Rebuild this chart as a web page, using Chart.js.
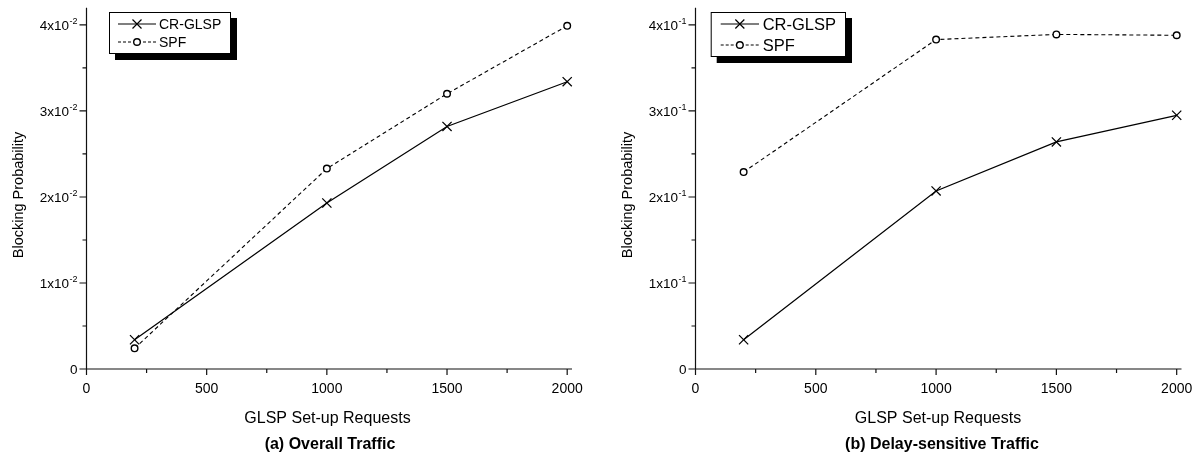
<!DOCTYPE html>
<html>
<head>
<meta charset="utf-8">
<script src="https://cdn.jsdelivr.net/npm/chart.js@4.4.0/dist/chart.umd.min.js"></script>
<style>
  html, body { margin: 0; padding: 0; background: #fff; }
  #wrap { position: relative; width: 1198px; height: 457px; overflow: hidden; }
  canvas { position: absolute; top: 0; }
  #cA { left: 0; }
  #cB { left: 600px; }
</style>
</head>
<body>
<div id="wrap">
  <canvas id="cA" width="600" height="457"></canvas>
  <canvas id="cB" width="598" height="457"></canvas>
</div>
<script>
// ---------------- data ----------------
const requests = [200, 1000, 1500, 2000];

const overallCR  = [0.0034, 0.0193, 0.0282, 0.0334];
const overallSPF = [0.0024, 0.0233, 0.0320, 0.0399];

const delayCR  = [0.034, 0.207, 0.264, 0.295];
const delaySPF = [0.229, 0.383, 0.389, 0.388];

const seriesNames = ['CR-GLSP', 'SPF'];

const xMajorTicks = [0, 500, 1000, 1500, 2000];
const xMinorTicks = [250, 750, 1250, 1750];
const xTickLabels = ['0', '500', '1000', '1500', '2000'];

const yMajorTicksA = [0, 0.01, 0.02, 0.03, 0.04];
const yMinorTicksA = [0.005, 0.015, 0.025, 0.035];
const yTickLabelsA = ['0', '1x10^-2', '2x10^-2', '3x10^-2', '4x10^-2'];

const yMajorTicksB = [0, 0.1, 0.2, 0.3, 0.4];
const yMinorTicksB = [0.05, 0.15, 0.25, 0.35];
const yTickLabelsB = ['0', '1x10^-1', '2x10^-1', '3x10^-1', '4x10^-1'];

const xTitle = 'GLSP Set-up Requests';
const yTitle = 'Blocking Probability';
const subTitleA = '(a) Overall Traffic';
const subTitleB = '(b) Delay-sensitive Traffic';

// ---------------- drawing ----------------
const FONT = '"Liberation Sans", Arial, Helvetica, sans-serif';

function toPoints(xs, ys) { return xs.map((x, i) => ({ x: x, y: ys[i] })); }

function drawMarker(ctx, style, x, y) {
  ctx.save();
  ctx.strokeStyle = '#000';
  ctx.setLineDash([]);
  if (style === 'cross') {
    ctx.lineWidth = 1.2;
    const r = 4.5;
    ctx.beginPath();
    ctx.moveTo(x - r, y - r); ctx.lineTo(x + r, y + r);
    ctx.moveTo(x - r, y + r); ctx.lineTo(x + r, y - r);
    ctx.stroke();
  } else {
    ctx.lineWidth = 1.4;
    ctx.fillStyle = '#fff';
    ctx.beginPath();
    ctx.arc(x, y, 3.3, 0, Math.PI * 2);
    ctx.fill(); ctx.stroke();
  }
  ctx.restore();
}

function makeAxesPlugin(cfg) {
  return {
    id: 'axesPlugin',
    afterDraw(chart) {
      const ctx = chart.ctx;
      const xs = chart.scales.x, ys = chart.scales.y;
      const a = chart.chartArea;
      ctx.save();
      ctx.strokeStyle = '#111';
      ctx.lineWidth = 1.2;
      ctx.setLineDash([]);
      // axis lines
      ctx.beginPath();
      ctx.moveTo(a.left, a.top); ctx.lineTo(a.left, a.bottom);
      ctx.moveTo(a.left, a.bottom); ctx.lineTo(a.right, a.bottom);
      ctx.stroke();
      // x ticks
      ctx.beginPath();
      xMajorTicks.forEach(v => { const p = xs.getPixelForValue(v); ctx.moveTo(p, a.bottom); ctx.lineTo(p, a.bottom + 6); });
      xMinorTicks.forEach(v => { const p = xs.getPixelForValue(v); ctx.moveTo(p, a.bottom); ctx.lineTo(p, a.bottom + 4); });
      // y ticks
      cfg.yMajor.forEach(v => { const p = ys.getPixelForValue(v); ctx.moveTo(a.left, p); ctx.lineTo(a.left - 7, p); });
      cfg.yMinor.forEach(v => { const p = ys.getPixelForValue(v); ctx.moveTo(a.left, p); ctx.lineTo(a.left - 4, p); });
      ctx.stroke();

      ctx.fillStyle = '#000';
      // x tick labels
      ctx.font = '14px ' + FONT;
      ctx.textAlign = 'center';
      ctx.textBaseline = 'alphabetic';
      xMajorTicks.forEach((v, i) => {
        ctx.fillText(xTickLabels[i], xs.getPixelForValue(v), a.bottom + 23.5);
      });
      // y tick labels with superscript exponent
      const rightEdge = a.left - 9;
      cfg.yMajor.forEach((v, i) => {
        const p = ys.getPixelForValue(v) + 5;
        const parts = cfg.yLabels[i].split('^');
        ctx.textAlign = 'left';
        ctx.font = '13.5px ' + FONT;
        const wBase = ctx.measureText(parts[0]).width;
        let wSup = 0;
        if (parts[1]) { ctx.font = '9px ' + FONT; wSup = ctx.measureText(parts[1]).width + 0.5; }
        const x0 = rightEdge - wBase - wSup;
        ctx.font = '13.5px ' + FONT;
        ctx.fillText(parts[0], x0, p);
        if (parts[1]) { ctx.font = '9px ' + FONT; ctx.fillText(parts[1], x0 + wBase + 0.5, p - 6); }
      });
      // titles
      ctx.textAlign = 'center';
      ctx.font = '16px ' + FONT;
      ctx.fillText(xTitle, cfg.xTitleX, 422.5);
      ctx.font = 'bold 16px ' + FONT;
      ctx.fillText(cfg.subTitle, cfg.xTitleX + cfg.subDx, 448.5);
      ctx.save();
      ctx.translate(cfg.yTitleX, 195);
      ctx.rotate(-Math.PI / 2);
      ctx.font = '14.5px ' + FONT;
      ctx.textBaseline = 'middle';
      ctx.fillText(yTitle, 0, 0);
      ctx.restore();

      // legend
      const L = cfg.legend;
      ctx.fillStyle = '#000';
      ctx.fillRect(L.x + L.sh, L.y + L.sh, L.w, L.h);
      ctx.fillStyle = '#fff';
      ctx.fillRect(L.x, L.y, L.w, L.h);
      ctx.lineWidth = 1;
      ctx.strokeStyle = '#000';
      ctx.strokeRect(L.x + 0.5, L.y + 0.5, L.w - 1, L.h - 1);
      ctx.font = L.font + 'px ' + FONT;
      ctx.textAlign = 'left';
      ctx.textBaseline = 'middle';
      seriesNames.forEach((name, i) => {
        const ry = L.rows[i];
        ctx.save();
        ctx.strokeStyle = '#000';
        ctx.lineWidth = 1.1;
        ctx.setLineDash(i === 0 ? [] : [3, 2]);
        ctx.beginPath();
        ctx.moveTo(L.lx0, ry); ctx.lineTo(L.lx1, ry);
        ctx.stroke();
        ctx.restore();
        drawMarker(ctx, i === 0 ? 'cross' : 'circle', (L.lx0 + L.lx1) / 2, ry);
        ctx.fillStyle = '#000';
        ctx.fillText(name, L.tx, ry + 1);
      });
      ctx.restore();
    }
  };
}

function makeChart(id, cr, spf, cfg) {
  return new Chart(document.getElementById(id), {
    type: 'line',
    data: {
      datasets: [
        {
          label: seriesNames[0],
          data: toPoints(requests, cr),
          borderColor: '#000',
          borderWidth: 1.25,
          pointStyle: 'crossRot',
          pointRadius: 6.5,
          pointBorderWidth: 1.25,
          pointBorderColor: '#000',
          pointBackgroundColor: '#000',
          tension: 0,
          fill: false,
          clip: false
        },
        {
          label: seriesNames[1],
          data: toPoints(requests, spf),
          borderColor: '#000',
          borderWidth: 1.1,
          borderDash: [4, 3],
          pointStyle: 'circle',
          pointRadius: 3.3,
          pointBorderWidth: 1.4,
          pointBorderColor: '#000',
          pointBackgroundColor: '#fff',
          tension: 0,
          fill: false,
          clip: false
        }
      ]
    },
    options: {
      responsive: false,
      animation: false,
      devicePixelRatio: 1,
      layout: { padding: cfg.padding },
      plugins: { legend: { display: false }, tooltip: { enabled: false } },
      scales: {
        x: { type: 'linear', min: 0, max: 2020, display: false },
        y: { type: 'linear', min: 0, max: cfg.yMax, display: false }
      }
    },
    plugins: [makeAxesPlugin(cfg)]
  });
}

makeChart('cA', overallCR, overallSPF, {
  padding: { left: 86.5, right: 28, top: 6.75, bottom: 88 },
  yMax: 0.042,
  yMajor: yMajorTicksA, yMinor: yMinorTicksA, yLabels: yTickLabelsA,
  xTitleX: 327.5, subDx: 2.5, subTitle: subTitleA, yTitleX: 18.5,
  legend: { x: 109, y: 12, w: 122, h: 42, sh: 6, rows: [24, 42], lx0: 118, lx1: 156, tx: 159, font: 14 }
});

makeChart('cB', delayCR, delaySPF, {
  padding: { left: 95.5, right: 16.5, top: 6.75, bottom: 88 },
  yMax: 0.42,
  yMajor: yMajorTicksB, yMinor: yMinorTicksB, yLabels: yTickLabelsB,
  xTitleX: 338, subDx: 4, subTitle: subTitleB, yTitleX: 27.5,
  legend: { x: 110.7, y: 12, w: 135.3, h: 45, sh: 6, rows: [24, 45], lx0: 120.7, lx1: 159, tx: 162.7, font: 16.5 }
});
</script>
</body>
</html>
